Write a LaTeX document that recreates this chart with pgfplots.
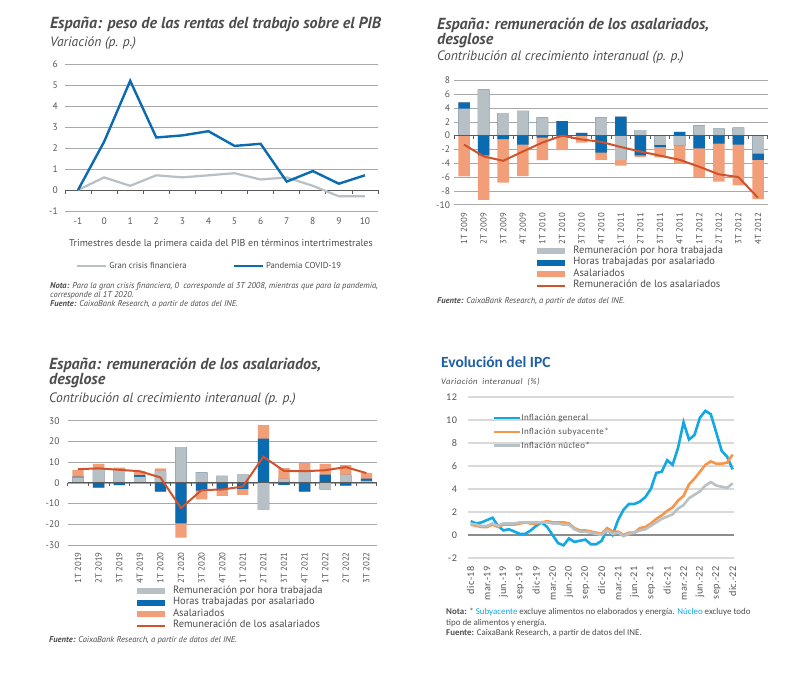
\documentclass[border=0pt]{standalone}
\usepackage{fontspec}
\setmainfont{PT Sans}
\newfontfamily\carlito{Carlito}
\newfontfamily\carlitols[LetterSpace=5]{Carlito}
\usepackage{pgfplots}
\pgfplotsset{compat=1.18}
\usepackage{pgfplotstable}

\definecolor{tit}{HTML}{4D4D4D}
\definecolor{txt}{HTML}{555555}
\definecolor{gridc}{HTML}{A8A8A8}
\definecolor{zl}{HTML}{5A5A5A}
\definecolor{gris}{HTML}{B6C0C5}
\definecolor{azul}{HTML}{0A6BB1}
\definecolor{naranja}{HTML}{F29E78}
\definecolor{rojo}{HTML}{D0532B}
\definecolor{ipcazul}{HTML}{12A8E6}
\definecolor{ipcnar}{HTML}{F7964A}
\definecolor{ipcgris}{HTML}{B9C1C5}
\definecolor{ipctit}{HTML}{1F5FA6}
\definecolor{ipcgrid}{HTML}{D9D9D9}
\definecolor{ipczero}{HTML}{8C8C8C}

\newcommand\titlef{\fontsize{16}{18}\selectfont\bfseries\itshape}
\newcommand\subf{\fontsize{13.6}{15}\selectfont\itshape}
\newcommand\tickf{\fontsize{9.5}{11}\selectfont}
\newcommand\legf{\fontsize{10.5}{11}\selectfont}
\newcommand\notef{\fontsize{8.5}{10}\selectfont\itshape}

\pgfplotsset{
  panel/.style={scale only axis, anchor=south west, clip=false,
    axis line style={draw=none}, major tick length=0pt,
    ymajorgrids, grid style={gridc, line width=0.6pt},
    tick label style={font=\tickf, text=txt, inner sep=0pt},
    /pgf/number format/assume math mode=true},
  patchleg/.style={legend image code/.code={\fill[##1] (0pt,-3.8pt) rectangle (28pt,2.2pt);}},
  lineleg/.style={legend image code/.code={\draw[##1] (0pt,-0.5pt) -- (28pt,-0.5pt);}},
  barlegend/.style={legend cell align=left,
    legend style={anchor=north west, draw=none, fill=none,
      font=\legf, text=tit, row sep=1.9pt,
      nodes={inner sep=0pt, text height=7.6pt, text depth=2pt},
      /tikz/every odd column/.append style={column sep=7pt}}},
}

% Panel 1: variacion del peso de las rentas del trabajo
\pgfplotstableread{
t   gcf   cov
-1  0     0
0   0.6   2.3
1   0.2   5.2
2   0.7   2.5
3   0.6   2.6
4   0.7   2.8
5   0.8   2.1
6   0.5   2.2
7   0.6   0.4
8   0.2   0.9
9   -0.3  0.3
10  -0.3  0.7
}\tabP

% Panel 2: desglose 2009-2012 (g = por hora, b = horas, o = asalariados, r = total)
\pgfplotstableread{
i   g      b      o      r
0   3.9    0.9    -5.9   -1.3
1   6.7    -2.85  -6.45  -3.0
2   3.25   -0.5   -6.3   -3.65
3   3.6    -1.3   -4.55  -2.3
4   2.65   -0.3   -3.25  -1.0
5   0      2.1    -2.1   0.0
6   0      0.4    -1.0   -0.55
7   2.65   -2.45  -1.05  -0.9
8   -3.5   2.75   -0.85  -1.65
9   0.8    -2.85  -0.25  -2.3
10  -1.35  -0.3   -1.5   -2.9
11  -1.45  0.55   -2.55  -3.5
12  1.5    -1.85  -4.15  -4.5
13  1.0    -1.15  -5.5   -5.6
14  1.15   -1.3   -5.9   -6.0
15  -2.6   -0.9   -5.7   -9.0
}\tabB

% Panel 3: desglose 2019-2022
\pgfplotstableread{
i   g      b      o      r
0   2.6    0.4    3.3    6.6
1   6.3    -2.3   2.9    7.0
2   6.3    -1.1   1.1    6.3
3   2.9    0.8    2.0    5.6
4   5.8    -4.2   1.2    2.6
5   17.2   -19.5  -6.9   -12.2
6   5.0    -3.8   -4.2   -3.5
7   3.4    -3.3   -3.0   -3.2
8   4.2    -2.9   -2.9   -1.8
9   -13.0  21.4   6.5    12.6
10  1.9    -1.0   5.2    5.8
11  5.2    -4.2   4.5    5.6
12  -3.2   4.0    5.2    6.1
13  3.9    -1.3   4.6    7.6
14  1.0    1.0    2.8    4.7
}\tabC

% Panel 4: IPC mensual, dic-18 = 0
\pgfplotstableread{
m   gen   sub   nuc
0   1.2   0.9   1.0
1   1.0   0.8   0.9
2   1.1   0.7   0.8
3   1.3   0.7   0.8
4   1.5   0.9   1.0
5   0.8   0.7   0.8
6   0.4   0.9   1.0
7   0.5   0.9   1.0
8   0.3   0.9   1.0
9   0.1   1.0   1.1
10  0.1   1.1   1.1
11  0.4   1.0   1.1
12  0.8   1.0   1.1
13  1.1   1.1   1.1
14  0.7   1.2   1.1
15  0.0   1.1   1.0
16  -0.7  1.1   1.0
17  -0.9  1.1   0.9
18  -0.3  1.0   0.9
19  -0.6  0.6   0.5
20  -0.5  0.4   0.3
21  -0.4  0.4   0.3
22  -0.8  0.3   0.2
23  -0.8  0.2   0.1
24  -0.5  0.1   0.0
25  0.5   0.6   0.4
26  0.0   0.3   0.1
27  1.3   0.3   0.2
28  2.2   0.0   -0.1
29  2.7   0.2   0.1
30  2.7   0.2   0.2
31  2.9   0.6   0.4
32  3.3   0.7   0.5
33  4.0   1.0   0.8
34  5.4   1.4   1.1
35  5.5   1.7   1.4
36  6.5   2.1   1.6
37  6.1   2.4   1.8
38  7.6   3.0   2.3
39  9.8   3.4   2.6
40  8.3   4.4   3.2
41  8.7   4.9   3.5
42  10.2  5.5   3.8
43  10.8  6.1   4.3
44  10.5  6.4   4.6
45  8.9   6.2   4.3
46  7.3   6.2   4.2
47  6.8   6.3   4.1
48  5.7   7.0   4.5
}\tabD

\begin{document}
\begin{tikzpicture}
\fill[white] (0pt,0pt) rectangle (801pt,-687pt);
\path[use as bounding box] (0pt,0pt) rectangle (801pt,-687pt);

% ---------- panel 1 ----------
\node[anchor=base west, inner sep=0pt, font=\titlef, text=tit] at (50pt,-29pt) {España: peso de las rentas del trabajo sobre el PIB};
\node[anchor=base west, inner sep=0pt, font=\subf, text=tit] at (50pt,-46.5pt) {Variación (p. p.)};
\begin{axis}[panel, at={(65pt,-211pt)}, width=313pt, height=147pt,
  xmin=-1.5, xmax=10.5, ymin=-1, ymax=6,
  xtick={-1,...,10}, ytick={-1,...,6},
  xticklabel shift=7pt, yticklabel shift=7pt,
  legend columns=2,
  legend style={at={(0.462,-0.374)}, anchor=center, draw=none, fill=none,
    font=\fontsize{8.7}{10}\selectfont, text=tit,
    /tikz/every even column/.append style={column sep=44pt}},
  legend image code/.code={\draw[#1] (0pt,0pt) -- (29pt,0pt);}]
\draw[zl, line width=0.8pt] (axis cs:-1.5,0) -- (axis cs:10.5,0);
\pgfplotsinvokeforeach{-1.5,-0.5,...,10.5}{\draw[zl, line width=0.8pt] (axis cs:#1,0) -- ++(0pt,-3.5pt);}
\addplot[gris, line width=2.2pt] table[x=t, y=gcf] {\tabP};
\addlegendentry{Gran crisis financiera}
\addplot[azul, line width=2.4pt] table[x=t, y=cov] {\tabP};
\addlegendentry{Pandemia COVID-19}
\end{axis}
\node[anchor=base, inner sep=0pt, font=\fontsize{10}{12}\selectfont, text=tit] at (221pt,-246.5pt) {Trimestres desde la primera caida del PIB en términos intertrimestrales};
\node[anchor=base west, inner sep=0pt, font=\notef, text=tit] at (50pt,-288.5pt) {\textbf{Nota:} Para la gran crisis financiera, 0\enspace corresponde al 3T 2008, mientras que para la pandemia,};
\node[anchor=base west, inner sep=0pt, font=\notef, text=tit] at (50pt,-297.5pt) {corresponde al 1T 2020.};
\node[anchor=base west, inner sep=0pt, font=\notef, text=tit] at (50pt,-306.5pt) {\textbf{Fuente:} CaixaBank Research, a partir de datos del INE.};

% ---------- panel 2 ----------
\node[anchor=base west, inner sep=0pt, font=\titlef, text=tit] at (437pt,-30pt) {España: remuneración de los asalariados,};
\node[anchor=base west, inner sep=0pt, font=\titlef, text=tit] at (437pt,-44.5pt) {desglose};
\node[anchor=base west, inner sep=0pt, font=\subf, text=tit] at (437pt,-61pt) {Contribución al crecimiento interanual (p. p.)};
\begin{axis}[panel, barlegend, at={(454.2pt,-204.7pt)}, width=313.6pt, height=124.3pt,
  xmin=-0.5, xmax=15.5, ymin=-10, ymax=8,
  ytick={-10,-8,...,8}, xtick={0,...,15},
  xticklabels={1T 2009,2T 2009,3T 2009,4T 2009,1T 2010,2T 2010,3T 2010,4T 2010,1T 2011,2T 2011,3T 2011,4T 2011,1T 2012,2T 2012,3T 2012,4T 2012},
  xticklabel style={rotate=90, anchor=east, font=\fontsize{8.8}{10}\selectfont},
  xticklabel shift=8pt, yticklabel shift=4pt,
  legend style={at={(0.252,-0.313)}}]
\addplot[ybar, bar width=11.5pt, fill=naranja, draw=none, forget plot] table[x=i, y expr={max(\thisrow{g},0)+max(\thisrow{b},0)+max(\thisrow{o},0)}] {\tabB};
\addplot[ybar, bar width=11.5pt, fill=azul, draw=none, forget plot] table[x=i, y expr={max(\thisrow{g},0)+max(\thisrow{b},0)}] {\tabB};
\addplot[ybar, bar width=11.5pt, fill=gris, draw=none, forget plot] table[x=i, y expr={max(\thisrow{g},0)}] {\tabB};
\addplot[ybar, bar width=11.5pt, fill=naranja, draw=none, forget plot] table[x=i, y expr={min(\thisrow{g},0)+min(\thisrow{b},0)+min(\thisrow{o},0)}] {\tabB};
\addplot[ybar, bar width=11.5pt, fill=azul, draw=none, forget plot] table[x=i, y expr={min(\thisrow{g},0)+min(\thisrow{b},0)}] {\tabB};
\addplot[ybar, bar width=11.5pt, fill=gris, draw=none, forget plot] table[x=i, y expr={min(\thisrow{g},0)}] {\tabB};
\draw[zl, line width=0.8pt] (axis cs:-0.5,0) -- (axis cs:15.5,0);
\pgfplotsinvokeforeach{-0.5,0.5,...,15.5}{\draw[zl, line width=0.8pt] (axis cs:#1,0) -- ++(0pt,-3pt);}
\addplot[rojo, line width=2pt, forget plot] table[x=i, y=r] {\tabB};
\addlegendimage{patchleg, fill=gris, draw=none}
\addlegendentry{Remuneración por hora trabajada}
\addlegendimage{patchleg, fill=azul, draw=none}
\addlegendentry{Horas trabajadas por asalariado}
\addlegendimage{patchleg, fill=naranja, draw=none}
\addlegendentry{Asalariados}
\addlegendimage{lineleg, rojo, line width=2pt}
\addlegendentry{Remuneración de los asalariados}
\end{axis}
\node[anchor=base west, inner sep=0pt, font=\notef, text=tit] at (437pt,-304pt) {\textbf{Fuente:} CaixaBank Research, a partir de datos del INE.};

% ---------- panel 3 ----------
\node[anchor=base west, inner sep=0pt, font=\titlef, text=tit] at (49pt,-369pt) {España: remuneración de los asalariados,};
\node[anchor=base west, inner sep=0pt, font=\titlef, text=tit] at (49pt,-384pt) {desglose};
\node[anchor=base west, inner sep=0pt, font=\subf, text=tit] at (49pt,-402pt) {Contribución al crecimiento interanual (p. p.)};
\begin{axis}[panel, barlegend, at={(67.7pt,-545pt)}, width=309pt, height=124.3pt,
  xmin=-0.5, xmax=14.5, ymin=-30, ymax=30,
  ytick={-30,-20,...,30}, xtick={0,...,14},
  xticklabels={1T 2019,2T 2019,3T 2019,4T 2019,1T 2020,2T 2020,3T 2020,4T 2020,1T 2021,2T 2021,3T 2021,4T 2021,1T 2022,2T 2022,3T 2022},
  xticklabel style={rotate=90, anchor=east, font=\fontsize{8.8}{10}\selectfont},
  xticklabel shift=7pt, yticklabel shift=8pt,
  legend style={at={(0.211,-0.311)}}]
\addplot[ybar, bar width=11.3pt, fill=naranja, draw=none, forget plot] table[x=i, y expr={max(\thisrow{g},0)+max(\thisrow{b},0)+max(\thisrow{o},0)}] {\tabC};
\addplot[ybar, bar width=11.3pt, fill=azul, draw=none, forget plot] table[x=i, y expr={max(\thisrow{g},0)+max(\thisrow{b},0)}] {\tabC};
\addplot[ybar, bar width=11.3pt, fill=gris, draw=none, forget plot] table[x=i, y expr={max(\thisrow{g},0)}] {\tabC};
\addplot[ybar, bar width=11.3pt, fill=naranja, draw=none, forget plot] table[x=i, y expr={min(\thisrow{g},0)+min(\thisrow{b},0)+min(\thisrow{o},0)}] {\tabC};
\addplot[ybar, bar width=11.3pt, fill=azul, draw=none, forget plot] table[x=i, y expr={min(\thisrow{g},0)+min(\thisrow{b},0)}] {\tabC};
\addplot[ybar, bar width=11.3pt, fill=gris, draw=none, forget plot] table[x=i, y expr={min(\thisrow{g},0)}] {\tabC};
\draw[zl, line width=0.8pt] (axis cs:-0.5,0) -- (axis cs:14.5,0);
\pgfplotsinvokeforeach{-0.5,0.5,...,14.5}{\draw[zl, line width=0.8pt] (axis cs:#1,0) -- ++(0pt,-3pt);}
\addplot[rojo, line width=2pt, forget plot] table[x=i, y=r] {\tabC};
\addlegendimage{patchleg, fill=gris, draw=none}
\addlegendentry{Remuneración por hora trabajada}
\addlegendimage{patchleg, fill=azul, draw=none}
\addlegendentry{Horas trabajadas por asalariado}
\addlegendimage{patchleg, fill=naranja, draw=none}
\addlegendentry{Asalariados}
\addlegendimage{lineleg, rojo, line width=2pt}
\addlegendentry{Remuneración de los asalariados}
\end{axis}
\node[anchor=base west, inner sep=0pt, font=\notef, text=tit] at (49pt,-642pt) {\textbf{Fuente:} CaixaBank Research, a partir de datos del INE.};

% ---------- panel 4 ----------
\node[anchor=base west, inner sep=0pt, font=\carlito\fontsize{15.5}{17}\selectfont\bfseries, text=ipctit] at (441pt,-367pt) {Evolución del IPC};
\node[anchor=base west, inner sep=0pt, font=\carlitols\fontsize{8.7}{10}\selectfont\itshape, text=txt] at (441pt,-384pt) {Variación\ \ interanual\ \ (\%)};
\begin{axis}[panel, at={(467.7pt,-558pt)}, width=266.6pt, height=161pt,
  xmin=-0.55, xmax=48.3, ymin=-2, ymax=12,
  ytick={-2,0,...,12}, xtick={0,3,...,48},
  xticklabels={dic-18,mar.-19,jun.-19,sep.-19,dic-19,mar.-20,jun.-20,sep.-20,dic-20,mar.-21,jun.-21,sep.-21,dic-21,mar.-22,jun.-22,sep.-22,dic.-22},
  grid style={ipcgrid, line width=1.2pt},
  tick label style={font=\carlitols\fontsize{10.2}{11}\selectfont, text=txt},
  xticklabel style={rotate=90, anchor=east},
  xticklabel shift=8pt, yticklabel shift=10.5pt,
  legend cell align=left,
  legend style={at={(0.08,0.91)}, anchor=north west, draw=none, fill=none,
    font=\carlitols\fontsize{9}{10}\selectfont, text=txt, row sep=5pt,
    nodes={inner sep=0.5pt}},
  legend image code/.code={\draw[#1] (0pt,0pt) -- (26pt,0pt);}]
\draw[ipczero, line width=1.8pt] (axis cs:-0.55,0) -- (axis cs:48.3,0);
\addplot[ipcazul, line width=2.6pt] table[x=m, y=gen] {\tabD};
\addlegendentry{Inflación general}
\addplot[ipcnar, line width=2.6pt] table[x=m, y=sub] {\tabD};
\addlegendentry{Inflación subyacente*}
\addplot[ipcgris, line width=2.6pt] table[x=m, y=nuc] {\tabD};
\addlegendentry{Inflación núcleo*}
\end{axis}
\node[anchor=base west, inner sep=0pt, font=\carlito\fontsize{8.9}{10}\selectfont, text=tit] at (446pt,-614pt) {\textbf{Nota:} * \textcolor{ipcazul}{Subyacente} excluye alimentos no elaborados y energía. \textcolor{ipcazul}{Núcleo} excluye todo};
\node[anchor=base west, inner sep=0pt, font=\carlito\fontsize{8.9}{10}\selectfont, text=tit] at (446pt,-625pt) {tipo de alimentos y energía.};
\node[anchor=base west, inner sep=0pt, font=\carlito\fontsize{8.9}{10}\selectfont, text=tit] at (446pt,-635.5pt) {\textbf{Fuente:} CaixaBank Research, a partir de datos del INE.};
\end{tikzpicture}
\end{document}
